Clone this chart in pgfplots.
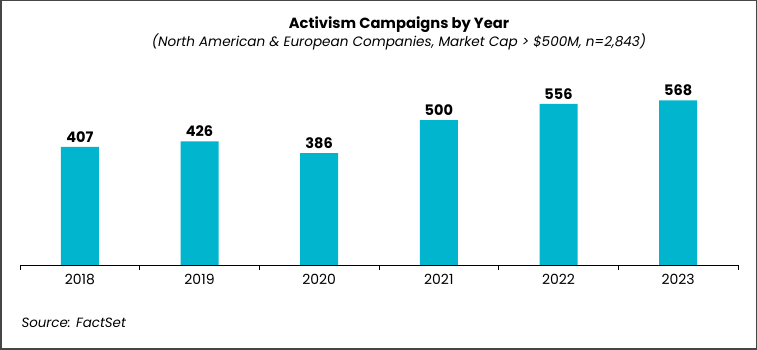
\documentclass[border=0pt]{standalone}
\usepackage{pgfplots}
\pgfplotsset{compat=1.18}
\usepackage{fontspec}
\setmainfont{Poppins}
\definecolor{barc}{RGB}{0,181,205}
\definecolor{framec}{RGB}{70,70,70}
\begin{document}
\begin{tikzpicture}[x=1pt,y=1pt]
\useasboundingbox (0,0) rectangle (757,350);
\draw[framec, line width=1.5pt] (0.75,0.75) rectangle (756.25,349.25);
\node[font=\fontsize{14.7}{17}\selectfont\bfseries] at (399,325) {Activism Campaigns by Year};
\node[font=\fontsize{13.6}{15}\selectfont\itshape] at (399,308.5) {(North American \& European Companies, Market Cap > \$500M, n=2,843)};
\node[font=\fontsize{13.4}{15}\selectfont\itshape, anchor=west] at (18,27) {Source: FactSet};
\begin{axis}[
  at={(20pt,85pt)}, anchor=south west,
  scale only axis, width=718pt, height=185pt,
  xmin=-0.5, xmax=5.5, ymin=0, ymax=638,
  axis y line=none, axis x line*=bottom,
  axis line style={black, line width=0.8pt},
  xtick={0,1,2,3,4,5}, xticklabels={2018,2019,2020,2021,2022,2023},
  major tick length=0pt,
  extra x ticks={-0.5,0.5,1.5,2.5,3.5,4.5,5.5},
  extra x tick labels={},
  extra x tick style={major tick length=5pt, tick style={black, line width=0.8pt}, tick align=outside},
  xticklabel style={font=\fontsize{14}{15}\selectfont, yshift=-5.5pt},
  /pgf/number format/assume math mode=true,
  ybar, bar width=38pt,
  nodes near coords,
  nodes near coords style={font=\fontsize{14.5}{15}\selectfont\bfseries, yshift=1pt},
  clip=false,
]
\addplot[fill=barc, draw=none] coordinates {(0,407) (1,426) (2,386) (3,500) (4,556) (5,568)};
\end{axis}
\end{tikzpicture}
\end{document}
